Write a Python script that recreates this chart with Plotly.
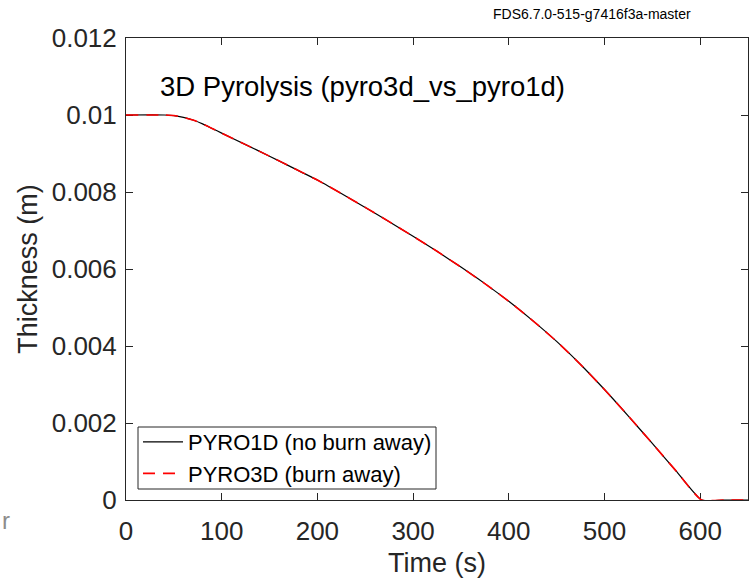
import plotly.graph_objects as go

# Data
time_s = [0, 40, 50, 60, 70, 80, 90, 100, 125, 150, 175, 200, 225, 250, 275,
          300, 325, 350, 375, 400, 425, 450, 475, 500, 525, 550, 575, 601.5, 625, 650]
thick_1d = [0.0100, 0.0100, 0.009985, 0.00994, 0.00987, 0.00977, 0.00965, 0.00953,
            0.00923, 0.00893, 0.00862, 0.00831, 0.00796, 0.00760, 0.00723,
            0.00685, 0.00646, 0.00605, 0.00562, 0.00516, 0.00466, 0.00412,
            0.00352, 0.00287, 0.00218, 0.00147, 0.00075, 0.0, 0.0, 0.0]
thick_3d = list(thick_1d)

x_ticks = [0, 100, 200, 300, 400, 500, 600]
y_ticks = [0, 0.002, 0.004, 0.006, 0.008, 0.010, 0.012]
y_tick_text = ["0", "0.002", "0.004", "0.006", "0.008", "0.01", "0.012"]

FONT = "Liberation Sans, Arial, sans-serif"
AX = "#262626"

W, H = 749, 578
ML, MR, MT, MB = 126, 1, 38, 78
WP, HP = W - ML - MR, H - MT - MB


def px_x(p):
    return (p - ML) / WP


def px_y(p):
    return (H - MB - p) / HP


fig = go.Figure()
fig.add_trace(go.Scatter(x=time_s, y=thick_1d, mode="lines", name="PYRO1D (no burn away)",
                         cliponaxis=False,
                         line=dict(color="black", width=1.2, shape="spline", smoothing=0.5)))
fig.add_trace(go.Scatter(x=time_s, y=thick_3d, mode="lines", name="PYRO3D (burn away)",
                         cliponaxis=False,
                         line=dict(color="red", width=1.6, dash="12px,8px",
                                   shape="spline", smoothing=0.5)))

axis_common = dict(showline=True, linecolor=AX, linewidth=1, mirror="ticks",
                   ticks="inside", ticklen=7, tickcolor=AX, tickwidth=1,
                   showgrid=False, zeroline=False, automargin=False,
                   layer="below traces",
                   tickfont=dict(family=FONT, size=26, color=AX))

fig.update_layout(
    width=W, height=H,
    margin=dict(l=ML, r=MR, t=MT, b=MB, autoexpand=False),
    paper_bgcolor="white", plot_bgcolor="white",
    showlegend=True,
    legend=dict(x=px_x(138), y=px_y(495), xanchor="left", yanchor="bottom",
                bgcolor="rgba(0,0,0,0)", borderwidth=0,
                font=dict(family=FONT, size=22, color="black"),
                itemwidth=40, tracegroupgap=0),
    xaxis=dict(range=[0, 650], tickvals=x_ticks, ticktext=[str(v) for v in x_ticks],
               ticklabelstandoff=8,
               title=dict(text="Time (s)", font=dict(family=FONT, size=27, color=AX), standoff=11),
               **axis_common),
    yaxis=dict(range=[0, 0.012], tickvals=y_ticks, ticktext=y_tick_text,
               ticklabelstandoff=3,
               title=dict(text="Thickness (m)", font=dict(family=FONT, size=27, color=AX), standoff=6),
               **axis_common),
)

# legend frame
fig.add_shape(type="rect", xref="paper", yref="paper",
              x0=px_x(138), x1=px_x(436), y0=px_y(489), y1=px_y(427),
              line=dict(color=AX, width=1), fillcolor="white", layer="below")

fig.add_annotation(x=px_x(158), y=px_y(86), xref="paper", yref="paper",
                   xanchor="left", yanchor="middle",
                   text="3D Pyrolysis (pyro3d_vs_pyro1d)", showarrow=False,
                   font=dict(family=FONT, size=27.5, color="black"))
fig.add_annotation(x=px_x(693), y=px_y(14), xref="paper", yref="paper", showarrow=False,
                   text="FDS6.7.0-515-g7416f3a-master", xanchor="right", yanchor="middle",
                   font=dict(family=FONT, size=14, color="black"))
fig.add_annotation(x=px_x(0), y=px_y(520), xref="paper", yref="paper", showarrow=False,
                   text="r", xanchor="left", yanchor="middle",
                   font=dict(family=FONT, size=24, color="#8c8c8c"))

fig.write_html("out.html")
